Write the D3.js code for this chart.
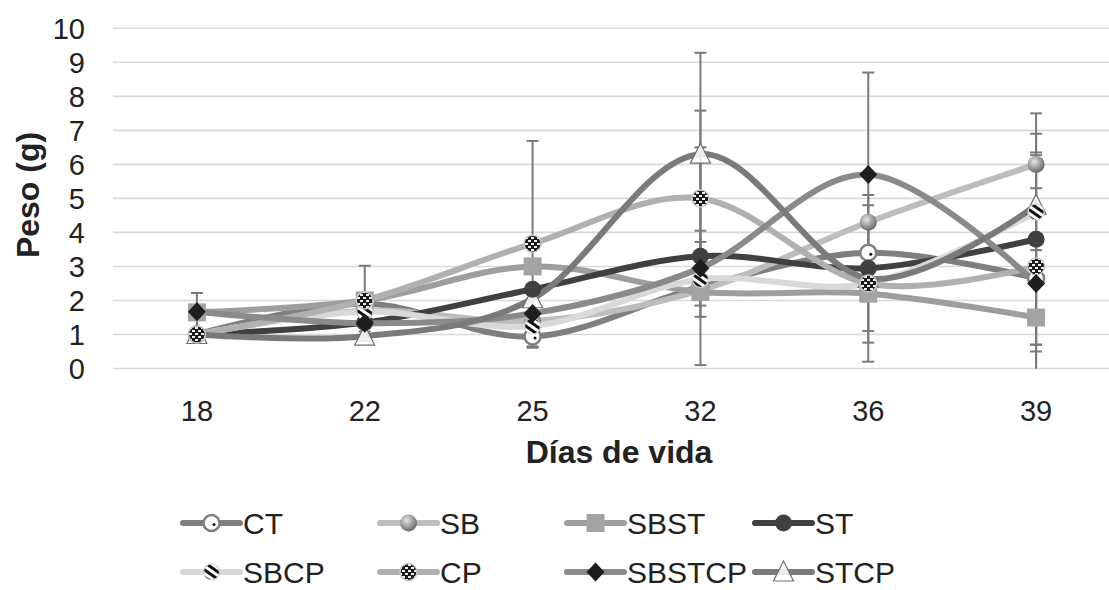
<!DOCTYPE html>
<html>
<head>
<meta charset="utf-8">
<script src="https://cdn.jsdelivr.net/npm/d3@7"></script>
<style>
  html, body { margin: 0; padding: 0; background: #fff; }
  svg { display: block; font-family: "Liberation Sans", Arial, sans-serif; }
</style>
</head>
<body>
<svg id="chart" width="1109" height="590"></svg>
<script>
// Días de vida (categorías del eje X)
const categories = ["18", "22", "25", "32", "36", "39"];
const yTicks = [0, 1, 2, 3, 4, 5, 6, 7, 8, 9, 10];

// Peso medio (g) por tratamiento
const CT     = [1.0, 1.9, 0.94, 2.4, 3.4, 2.65];
const SB     = [1.0, 1.7, 1.4, 2.3, 4.3, 6.0];
const SBST   = [1.65, 2.0, 3.0, 2.25, 2.2, 1.5];
const ST     = [1.0, 1.35, 2.33, 3.3, 2.95, 3.8];
const SBCP   = [1.0, 1.67, 1.25, 2.62, 2.5, 4.6];
const CP     = [1.0, 2.0, 3.67, 5.0, 2.5, 3.0];
const SBSTCP = [1.67, 1.33, 1.62, 2.95, 5.7, 2.5];
const STCP   = [1.0, 0.95, 2.05, 6.3, 2.65, 4.8];

// Barras de error (±)
const errCT     = [0, 0, 0.33, 0, 0, 3.7];
const errSB     = [0, 0, 0, 0, 0, 1.5];
const errSBST   = [0, 0, 0, 0, 0, 1.98];
const errST     = [0, 0, 0, 3.2, 1.85, 3.1];
const errSBCP   = [0, 0, 0, 1.1, 0, 1.67];
const errCP     = [0, 1.02, 3.02, 2.58, 1.74, 2.3];
const errSBSTCP = [0.55, 0, 0, 1.1, 3.0, 2.0];
const errSTCP   = [0, 0.14, 0, 2.98, 2.45, 1.12];

const series = [
  { name: "CT",     values: CT,     err: errCT,     color: "#7f7f7f" },
  { name: "SB",     values: SB,     err: errSB,     color: "#bdbdbd" },
  { name: "SBST",   values: SBST,   err: errSBST,   color: "#9e9e9e" },
  { name: "ST",     values: ST,     err: errST,     color: "#404040" },
  { name: "SBCP",   values: SBCP,   err: errSBCP,   color: "#d9d9d9" },
  { name: "CP",     values: CP,     err: errCP,     color: "#b0b0b0" },
  { name: "SBSTCP", values: SBSTCP, err: errSBSTCP, color: "#8a8a8a" },
  { name: "STCP",   values: STCP,   err: errSTCP,   color: "#7a7a7a" }
];

const svg = d3.select("#chart");
const W = 1109, H = 590;
svg.append("rect").attr("width", W).attr("height", H).attr("fill", "#fff");

// Patrones y degradados de los marcadores
const defs = svg.append("defs");
const stripes = defs.append("pattern").attr("id", "stripes")
  .attr("width", 6).attr("height", 6).attr("patternUnits", "userSpaceOnUse")
  .attr("patternTransform", "rotate(35)");
stripes.append("rect").attr("width", 6).attr("height", 6).attr("fill", "#fff");
stripes.append("rect").attr("width", 6).attr("height", 3).attr("fill", "#111");

const checker = defs.append("pattern").attr("id", "checker")
  .attr("width", 6).attr("height", 6).attr("patternUnits", "userSpaceOnUse");
checker.append("rect").attr("width", 6).attr("height", 6).attr("fill", "#1a1a1a");
checker.append("rect").attr("x", 0).attr("y", 0).attr("width", 3).attr("height", 2).attr("fill", "#eee");
checker.append("rect").attr("x", 3).attr("y", 3).attr("width", 3).attr("height", 2).attr("fill", "#eee");

const sphere = defs.append("radialGradient").attr("id", "sphere")
  .attr("cx", "40%").attr("cy", "35%").attr("r", "65%");
sphere.append("stop").attr("offset", "0%").attr("stop-color", "#e6e6e6");
sphere.append("stop").attr("offset", "60%").attr("stop-color", "#9a9a9a");
sphere.append("stop").attr("offset", "100%").attr("stop-color", "#6a6a6a");

// Escalas
const x = d3.scaleBand().domain(categories).range([113, 1120]);
const cx = c => x(c) + x.bandwidth() / 2;
const y = d3.scaleLinear().domain([0, 10]).range([368.5, 28.3]);

// Líneas de cuadrícula
svg.append("g").selectAll("line").data(yTicks).join("line")
  .attr("x1", 113).attr("x2", 1120)
  .attr("y1", d => y(d)).attr("y2", d => y(d))
  .attr("stroke", "#d9d9d9").attr("stroke-width", 1.6);

// Eje Y
const yAxis = d3.axisLeft(y).tickValues(yTicks).tickSize(0).tickPadding(0).tickFormat(d3.format("d"));
const gy = svg.append("g").attr("transform", "translate(85,0)").call(yAxis);
gy.select(".domain").remove();
gy.selectAll("text").attr("font-size", 29).attr("fill", "#222")
  .attr("font-family", "Liberation Sans, Arial, sans-serif").attr("dy", "0.36em");

// Eje X
const xAxis = d3.axisBottom(x).tickSize(0).tickPadding(0);
const gx = svg.append("g").attr("transform", "translate(0,400)").call(xAxis);
gx.select(".domain").remove();
gx.selectAll("text").attr("font-size", 29).attr("fill", "#222")
  .attr("font-family", "Liberation Sans, Arial, sans-serif").attr("dy", "0.71em");

// Títulos de los ejes
svg.append("text").attr("x", 619).attr("y", 452)
  .attr("text-anchor", "middle").attr("dominant-baseline", "central")
  .attr("font-size", 32).attr("font-weight", "bold").attr("fill", "#222")
  .text("Días de vida");
svg.append("text").attr("transform", "translate(28,195) rotate(-90)")
  .attr("text-anchor", "middle").attr("dominant-baseline", "central")
  .attr("font-size", 32).attr("font-weight", "bold").attr("fill", "#222")
  .text("Peso (g)");

// Marcadores
function drawMarker(g, name, px, py) {
  switch (name) {
    case "CT":
      g.append("circle").attr("cx", px).attr("cy", py).attr("r", 8)
        .attr("fill", "#fff").attr("stroke", "#7f7f7f").attr("stroke-width", 2.5);
      g.append("circle").attr("cx", px + 2.5).attr("cy", py + 1.5).attr("r", 1.5).attr("fill", "#111");
      break;
    case "SB":
      g.append("circle").attr("cx", px).attr("cy", py).attr("r", 8.5).attr("fill", "url(#sphere)");
      break;
    case "SBST":
      g.append("rect").attr("x", px - 9).attr("y", py - 9).attr("width", 18).attr("height", 18).attr("fill", "#a3a3a3");
      break;
    case "ST":
      g.append("circle").attr("cx", px).attr("cy", py).attr("r", 8.5).attr("fill", "#404040");
      break;
    case "SBCP":
      g.append("circle").attr("cx", px).attr("cy", py).attr("r", 8)
        .attr("fill", "url(#stripes)").attr("stroke", "#cfcfcf").attr("stroke-width", 1.2);
      break;
    case "CP":
      g.append("circle").attr("cx", px).attr("cy", py).attr("r", 8.5)
        .attr("fill", "url(#checker)").attr("stroke", "#c8c8c8").attr("stroke-width", 1.5);
      break;
    case "SBSTCP":
      g.append("path").attr("d", `M${px},${py - 9.5}L${px + 9},${py}L${px},${py + 9.5}L${px - 9},${py}Z`)
        .attr("fill", "#1e1e1e");
      break;
    case "STCP":
      g.append("path").attr("d", `M${px},${py - 11}L${px + 10},${py + 9}L${px - 10},${py + 9}Z`)
        .attr("fill", "#fff").attr("fill-opacity", 0.85).attr("stroke", "#6f6f6f").attr("stroke-width", 1.2);
      break;
  }
}

const line = d3.line()
  .x((d, i) => cx(categories[i]))
  .y(d => y(d))
  .curve(d3.curveCatmullRom.alpha(0));

// Líneas suavizadas de cada serie
const gLines = svg.append("g");
series.forEach(s => {
  gLines.append("path").datum(s.values).attr("d", line)
    .attr("fill", "none").attr("stroke", s.color).attr("stroke-width", 6)
    .attr("stroke-linecap", "round").attr("stroke-linejoin", "round");
});

// Barras de error
const gErr = svg.append("g").attr("stroke", "#7a7a7a").attr("stroke-width", 2);
series.forEach(s => {
  s.values.forEach((v, i) => {
    const e = s.err[i];
    if (!e) return;
    const px = cx(categories[i]);
    const hi = v + e, lo = Math.max(0, v - e);
    gErr.append("line").attr("x1", px).attr("x2", px).attr("y1", y(lo)).attr("y2", y(hi));
    gErr.append("line").attr("x1", px - 6).attr("x2", px + 6).attr("y1", y(hi)).attr("y2", y(hi));
    if (v - e >= 0) {
      gErr.append("line").attr("x1", px - 6).attr("x2", px + 6).attr("y1", y(lo)).attr("y2", y(lo));
    }
  });
});

// Marcadores (los triángulos de STCP quedan debajo del resto)
const markerOrder = ["STCP", "CT", "SB", "SBST", "ST", "SBCP", "CP", "SBSTCP"];
const gMarks = svg.append("g");
markerOrder.forEach(name => {
  const s = series.find(d => d.name === name);
  s.values.forEach((v, i) => drawMarker(gMarks, s.name, cx(categories[i]), y(v)));
});

// Leyenda
const legendCols = [183, 380, 567, 755];
const legendRows = [523, 572];
series.forEach((s, k) => {
  const lx = legendCols[k % 4], ly = legendRows[Math.floor(k / 4)];
  const g = svg.append("g");
  g.append("line").attr("x1", lx).attr("x2", lx + 57).attr("y1", ly).attr("y2", ly)
    .attr("stroke", s.color).attr("stroke-width", 6).attr("stroke-linecap", "round");
  drawMarker(g, s.name, lx + 28.5, ly);
  g.append("text").attr("x", lx + 60).attr("y", ly).attr("dominant-baseline", "central")
    .attr("font-size", 30).attr("fill", "#222").text(s.name);
});
</script>
</body>
</html>
